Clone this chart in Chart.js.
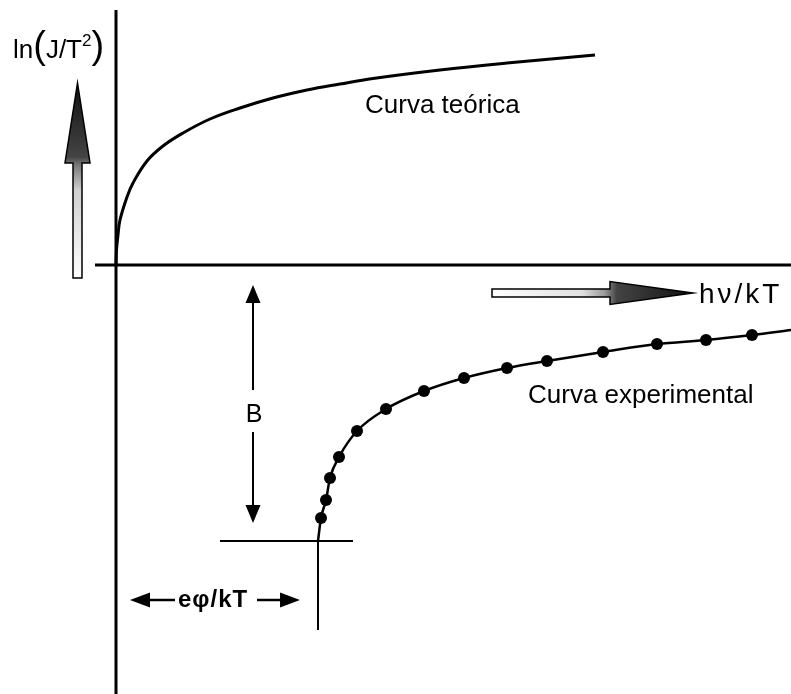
<!DOCTYPE html>
<html>
<head>
<meta charset="utf-8">
<script src="https://cdn.jsdelivr.net/npm/chart.js@4.4.1/dist/chart.umd.min.js"></script>
<style>
  html, body { margin: 0; padding: 0; background: #fff; }
  #wrap { width: 791px; height: 694px; position: relative; }
</style>
</head>
<body>
<div id="wrap"><canvas id="diagram"></canvas></div>
<script>
// ---- data (x = hv/kT, y = ln(J/T^2), arbitrary units, origin at the axes) ----
const teoricaX = [0, 0.005, 0.02, 0.04, 0.11, 0.17, 0.31, 0.47, 0.67, 0.94, 1.24, 1.57, 1.91, 2.24, 2.57, 3.24, 3.91, 4.57, 4.79];
const teoricaY = [0, 0.15, 0.30, 0.45, 0.68, 0.82, 1.04, 1.19, 1.32, 1.46, 1.57, 1.67, 1.75, 1.81, 1.865, 1.95, 2.02, 2.08, 2.10];

const expX = [2.05, 2.10, 2.14, 2.23, 2.41, 2.70, 3.08, 3.48, 3.91, 4.31, 4.87, 5.41, 5.90, 6.36];
const expY = [-2.53, -2.35, -2.13, -1.92, -1.66, -1.44, -1.26, -1.13, -1.03, -0.96, -0.87, -0.79, -0.75, -0.70];
const expInicio = [2.02, -2.76];   // onde a curva experimental corta a linha base
const expFim = [6.75, -0.65];

const ejeX = [-0.21, 6.75];
const ejeY = [2.55, -4.29];
const lineaB = [1.04, 2.37];        // linea horizontal en y = expInicio[1]
const lineaPhi = [-2.76, -3.65];    // linea vertical en x = expInicio[0]

const toPts = (xs, ys) => xs.map((x, i) => ({ x: x, y: ys[i] }));

// ==========================================
// anotaciones (flechas y textos) en coordenadas de datos
// ==========================================
const FONT = '"Liberation Sans", Arial, sans-serif';

function arrowHead(ctx, x, y, dx, dy, len, half) {
    // punta en (x,y) apuntando hacia (dx,dy)
    const bx = x - dx * len, by = y - dy * len;
    ctx.beginPath();
    ctx.moveTo(x, y);
    ctx.lineTo(bx - dy * half, by + dx * half);
    ctx.lineTo(bx + dy * half, by - dx * half);
    ctx.closePath();
    ctx.fill();
}

const anotaciones = {
    id: 'anotaciones',
    afterDatasetsDraw(chart) {
        const ctx = chart.ctx;
        const sx = v => chart.scales.x.getPixelForValue(v);
        const sy = v => chart.scales.y.getPixelForValue(v);
        ctx.save();
        ctx.fillStyle = '#000';
        ctx.strokeStyle = '#000';
        ctx.textBaseline = 'alphabetic';

        // --- flecha vertical con degradado ---
        {
            const cx = sx(-0.385), bot = sy(-0.13), tip = sy(1.82), base = sy(1.02);
            const g = ctx.createLinearGradient(0, bot, 0, tip);
            g.addColorStop(0, '#ffffff');
            g.addColorStop(0.45, '#d0d0d0');
            g.addColorStop(0.58, '#777777');
            g.addColorStop(0.62, '#444444');
            g.addColorStop(1, '#111111');
            ctx.beginPath();
            ctx.moveTo(cx - 4.5, bot);
            ctx.lineTo(cx - 4.5, base);
            ctx.lineTo(cx - 12.5, base);
            ctx.lineTo(cx, tip);
            ctx.lineTo(cx + 12.5, base);
            ctx.lineTo(cx + 4.5, base);
            ctx.lineTo(cx + 4.5, bot);
            ctx.closePath();
            ctx.fillStyle = g;
            ctx.fill();
            ctx.lineWidth = 1.5;
            ctx.stroke();
        }

        // --- flecha horizontal con degradado ---
        {
            const cy = sy(-0.28), left = sx(3.76), tip = sx(5.77), base = sx(4.94);
            const g = ctx.createLinearGradient(left, 0, tip, 0);
            g.addColorStop(0, '#ffffff');
            g.addColorStop(0.45, '#e0e0e0');
            g.addColorStop(0.56, '#999999');
            g.addColorStop(0.62, '#444444');
            g.addColorStop(1, '#111111');
            ctx.beginPath();
            ctx.moveTo(left, cy - 4);
            ctx.lineTo(base, cy - 4);
            ctx.lineTo(base, cy - 11.5);
            ctx.lineTo(tip, cy);
            ctx.lineTo(base, cy + 11.5);
            ctx.lineTo(base, cy + 4);
            ctx.lineTo(left, cy + 4);
            ctx.closePath();
            ctx.fillStyle = g;
            ctx.fill();
            ctx.lineWidth = 1.5;
            ctx.stroke();
        }

        ctx.fillStyle = '#000';

        // --- flecha doble B ---
        {
            const x = sx(1.37);
            const t = sy(-0.20), b1 = sy(-1.25), b2 = sy(-1.67), b = sy(-2.58);
            ctx.lineWidth = 2;
            ctx.beginPath();
            ctx.moveTo(x, t + 10); ctx.lineTo(x, b1);
            ctx.moveTo(x, b2); ctx.lineTo(x, b - 10);
            ctx.stroke();
            arrowHead(ctx, x, t, 0, -1, 18, 7.5);
            arrowHead(ctx, x, b, 0, 1, 18, 7.5);
            ctx.font = '25px ' + FONT;
            ctx.textAlign = 'center';
            ctx.fillText('B', sx(1.38), sy(-1.57));
        }

        // --- e phi / kT ---
        {
            const y = sy(-3.35);
            ctx.lineWidth = 2.5;
            ctx.beginPath();
            ctx.moveTo(sx(0.14) + 10, y); ctx.lineTo(sx(0.59), y);
            ctx.moveTo(sx(1.41), y); ctx.lineTo(sx(1.84) - 10, y);
            ctx.stroke();
            arrowHead(ctx, sx(0.14), y, -1, 0, 20, 7.5);
            arrowHead(ctx, sx(1.84), y, 1, 0, 20, 7.5);
            ctx.font = 'bold 24px ' + FONT;
            ctx.letterSpacing = '1px';
            ctx.textAlign = 'left';
            ctx.fillText('eφ/kT', sx(0.62), sy(-3.415));
            ctx.letterSpacing = '0px';
        }

        // --- textos ---
        ctx.textAlign = 'left';
        ctx.font = '26px ' + FONT;
        ctx.fillText('Curva teórica', sx(2.49), sy(1.52));
        ctx.fillText('Curva experimental', sx(4.12), sy(-1.38));
        ctx.font = '28px ' + FONT;
        ctx.letterSpacing = '3px';
        ctx.fillText('hν/kT', sx(5.83), sy(-0.38));
        ctx.letterSpacing = '0px';

        // --- ln(J/T^2) ---
        {
            let x = sx(-1.03);
            const base = sy(2.07);
            const put = (txt, font, dy) => {
                ctx.font = font;
                ctx.fillText(txt, x, base + (dy || 0));
                x += ctx.measureText(txt).width;
            };
            put('ln', '26px ' + FONT);
            put('(', '38px ' + FONT, 0);
            put('J/T', '26px ' + FONT);
            put('2', '17px ' + FONT, -12);
            put(')', '38px ' + FONT, 0);
        }
        ctx.restore();
    }
};

// ==========================================
// grafico
// ==========================================
const lineStyle = (w) => ({
    borderColor: '#000', borderWidth: w, pointRadius: 0, fill: false,
    showLine: true, tension: 0
});

new Chart(document.getElementById('diagram'), {
    type: 'scatter',
    data: {
        datasets: [
            Object.assign({ data: toPts(ejeX, [0, 0]) }, lineStyle(3)),
            Object.assign({ data: toPts([0, 0], ejeY) }, lineStyle(3)),
            Object.assign({ data: toPts(lineaB, [expInicio[1], expInicio[1]]) }, lineStyle(2)),
            Object.assign({ data: toPts([expInicio[0], expInicio[0]], lineaPhi) }, lineStyle(2)),
            Object.assign({ data: toPts(teoricaX, teoricaY) }, lineStyle(3), { tension: 0.4 }),
            Object.assign({
                data: [{ x: expInicio[0], y: expInicio[1] }].concat(toPts(expX, expY), [{ x: expFim[0], y: expFim[1] }])
            }, lineStyle(2.5), { cubicInterpolationMode: 'monotone' }),
            {
                data: toPts(expX, expY),
                showLine: false,
                pointRadius: 6,
                pointBackgroundColor: '#000',
                pointBorderColor: '#000',
                pointBorderWidth: 0
            }
        ]
    },
    options: {
        responsive: true,
        maintainAspectRatio: false,
        animation: false,
        layout: { padding: 0, autoPadding: false },
        plugins: { legend: { display: false }, tooltip: { enabled: false } },
        scales: {
            x: { type: 'linear', min: -1.16, max: 6.75, display: false },
            y: { type: 'linear', min: -4.29, max: 2.65, display: false }
        }
    },
    plugins: [anotaciones]
});
</script>
</body>
</html>
